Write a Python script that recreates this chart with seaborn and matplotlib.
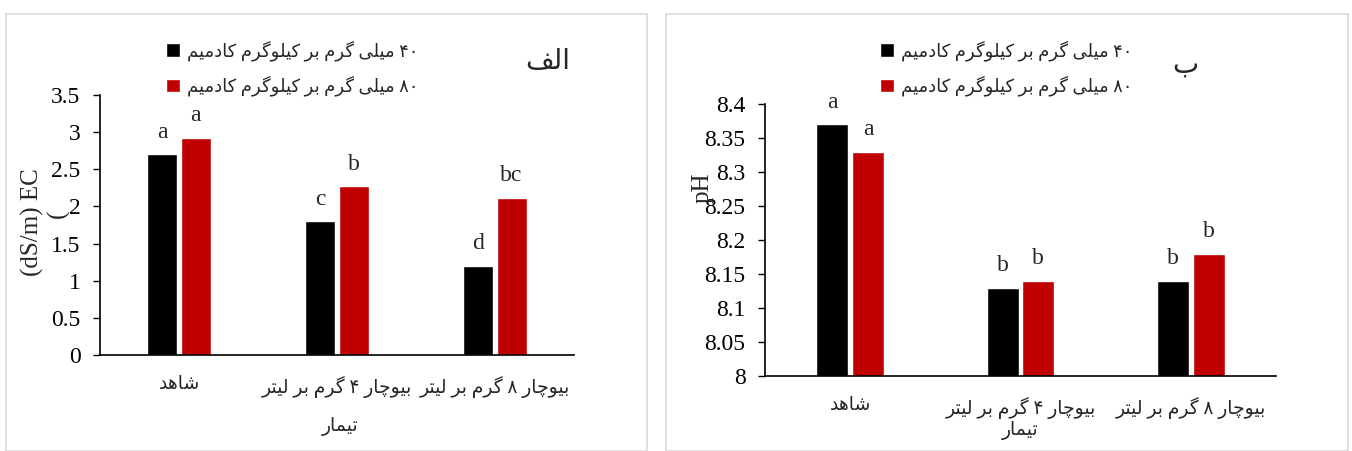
import re
import pandas as pd
import matplotlib.pyplot as plt
import seaborn as sns
from matplotlib.patches import Rectangle, Patch

# data
treatments = ['شاهد', 'بیوچار ۴ گرم بر لیتر', 'بیوچار ۸ گرم بر لیتر']
cadmium_levels = ['۴۰ میلی گرم بر کیلوگرم کادمیم', '۸۰ میلی گرم بر کیلوگرم کادمیم']
ec_40 = [2.70, 1.80, 1.20]
ec_80 = [2.92, 2.27, 2.12]
ph_40 = [8.37, 8.13, 8.14]
ph_80 = [8.33, 8.14, 8.18]
ec_letters_40 = ['a', 'c', 'd']
ec_letters_80 = ['a', 'b', 'bc']
ph_letters_40 = ['a', 'b', 'b']
ph_letters_80 = ['a', 'b', 'b']
ec_ticks = [0, 0.5, 1, 1.5, 2, 2.5, 3, 3.5]
ph_ticks = [8, 8.05, 8.1, 8.15, 8.2, 8.25, 8.3, 8.35, 8.4]

colors = ['#000000', '#C00000']

# minimal persian shaping (matplotlib does no arabic shaping / bidi)
FORMS = {
    'ا': ('\uFE8D', '\uFE8E', None, None),
    'ب': ('\uFE8F', '\uFE90', '\uFE91', '\uFE92'),
    'پ': ('\uFB56', '\uFB57', '\uFB58', '\uFB59'),
    'ت': ('\uFE95', '\uFE96', '\uFE97', '\uFE98'),
    'چ': ('\uFB7A', '\uFB7B', '\uFB7C', '\uFB7D'),
    'د': ('\uFEA9', '\uFEAA', None, None),
    'ر': ('\uFEAD', '\uFEAE', None, None),
    'س': ('\uFEB1', '\uFEB2', '\uFEB3', '\uFEB4'),
    'ش': ('\uFEB5', '\uFEB6', '\uFEB7', '\uFEB8'),
    'ف': ('\uFED1', '\uFED2', '\uFED3', '\uFED4'),
    'ک': ('\uFB8E', '\uFB8F', '\uFB90', '\uFB91'),
    'گ': ('\uFB92', '\uFB93', '\uFB94', '\uFB95'),
    'ل': ('\uFEDD', '\uFEDE', '\uFEDF', '\uFEE0'),
    'م': ('\uFEE1', '\uFEE2', '\uFEE3', '\uFEE4'),
    'ه': ('\uFEE9', '\uFEEA', '\uFEEB', '\uFEEC'),
    'و': ('\uFEED', '\uFEEE', None, None),
    'ی': ('\uFBFC', '\uFBFD', '\uFBFE', '\uFBFF'),
}


def fa(text):
    out = []
    for i, ch in enumerate(text):
        if ch not in FORMS:
            out.append(ch)
            continue
        prev = text[i - 1] if i > 0 else ''
        nxt = text[i + 1] if i + 1 < len(text) else ''
        joins_prev = prev in FORMS and FORMS[prev][2] is not None
        joins_next = nxt in FORMS and FORMS[ch][2] is not None
        iso, fin, ini, med = FORMS[ch]
        if joins_prev and joins_next:
            out.append(med)
        elif joins_prev:
            out.append(fin)
        elif joins_next:
            out.append(ini)
        else:
            out.append(iso)
    vis = ''.join(out)[::-1]
    # keep digit runs left to right
    return re.sub('[0-9۰-۹]+', lambda m: m.group(0)[::-1], vis)


sns.set_style('ticks')
plt.rcParams['font.family'] = ['Liberation Serif', 'DejaVu Sans']
FA_SIZE = 13.5

fig = plt.figure(figsize=(13.52, 4.51), dpi=100)
W, H = 1352, 451

# panel frames
fig.patches.append(Rectangle((6 / W, 0), 641 / W, 1 - 14 / H, transform=fig.transFigure,
                             fill=False, edgecolor='#d9d9d9', lw=1.2))
fig.patches.append(Rectangle((666 / W, 0), 682 / W, 1 - 14 / H, transform=fig.transFigure,
                             fill=False, edgecolor='#d9d9d9', lw=1.2))

ax1 = fig.add_axes([100 / W, 1 - 355 / H, 474 / W, 260 / H])
ax2 = fig.add_axes([765 / W, 1 - 376 / H, 511 / W, 272 / H])


def draw(ax, v40, v80, l40, l80, ticks, ylim):
    df = pd.DataFrame({
        'treatment': treatments * 2,
        'level': [cadmium_levels[0]] * 3 + [cadmium_levels[1]] * 3,
        'value': v40 + v80,
    })
    sns.barplot(data=df, x='treatment', y='value', hue='level', order=treatments,
                hue_order=cadmium_levels, palette=colors, width=0.42, gap=0.1,
                saturation=1, legend=False, ax=ax)
    for cont, letters in zip(ax.containers, [l40, l80]):
        for bar, lt in zip(cont, letters):
            ax.annotate(lt, (bar.get_x() + bar.get_width() / 2, bar.get_height()),
                        xytext=(0, 12), textcoords='offset points', ha='center',
                        va='baseline', fontsize=17)
    ax.set_ylim(ylim)
    ax.set_yticks(ticks)
    ax.set_yticklabels([f'{t:g}' for t in ticks])
    ax.set_xlim(-0.5, 2.5)
    ax.set_xticks(range(3))
    ax.set_xticklabels([fa(t) for t in treatments])
    ax.set_xlabel('')
    ax.set_ylabel('')
    ax.tick_params(axis='x', length=0, pad=15, labelsize=FA_SIZE)
    ax.tick_params(axis='y', length=5, width=1, pad=9, labelsize=17, colors='black')
    sns.despine(ax=ax)
    for s in ['left', 'bottom']:
        ax.spines[s].set_color('black')
        ax.spines[s].set_linewidth(1.2)
    handles = [Patch(facecolor=c) for c in colors]
    return handles


h = draw(ax1, ec_40, ec_80, ec_letters_40, ec_letters_80, ec_ticks, (0, 3.5))
draw(ax2, ph_40, ph_80, ph_letters_40, ph_letters_80, ph_ticks, (8, 8.4))

for ax, x0 in [(ax1, 150), (ax2, 864)]:
    ax.legend(h, [fa(t) for t in cadmium_levels], loc='upper left',
              bbox_to_anchor=(x0 / W, 1 - 24 / H), bbox_transform=fig.transFigure,
              frameon=False, fontsize=13, handlelength=0.75, handleheight=0.75,
              handletextpad=0.4, labelspacing=0.8)

fig.text(548 / W, 1 - 62 / H, fa('الف'), fontsize=20, ha='center', va='center')
fig.text(1185 / W, 1 - 66 / H, fa('ب'), fontsize=20, ha='center', va='center')
fig.text(340 / W, 1 - 427 / H, fa('تیمار'), fontsize=FA_SIZE, ha='center', va='center')
fig.text(1020 / W, 1 - 431 / H, fa('تیمار'), fontsize=FA_SIZE, ha='center', va='center')
fig.text(32 / W, 1 - 222 / H, '(dS/m) EC', fontsize=18, rotation=90, ha='center', va='center')
fig.text(58 / W, 1 - 214 / H, '(', fontsize=18, rotation=90, ha='center', va='center')
fig.text(703 / W, 1 - 188 / H, 'pH', fontsize=18, rotation=90, ha='center', va='center')

fig.savefig('out.png', dpi=100)
